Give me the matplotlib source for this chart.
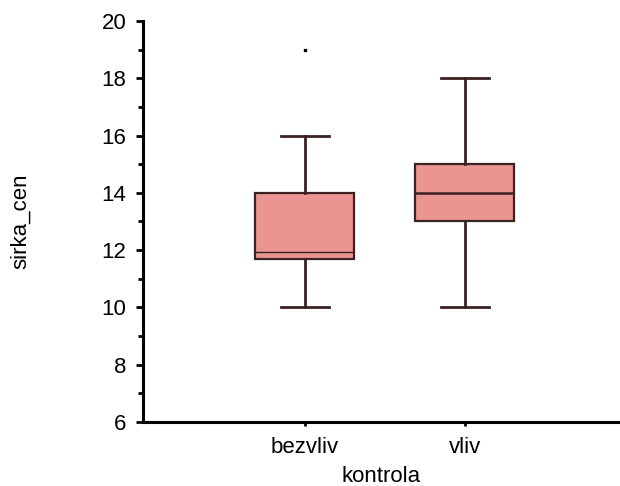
import matplotlib.pyplot as plt
from matplotlib.ticker import MultipleLocator

# box statistics
groups = ["bezvliv", "vliv"]
q1 = [11.7, 13.0]
medians = [11.95, 14.0]
q3 = [14.0, 15.0]
whisker_low = [10.0, 10.0]
whisker_high = [16.0, 18.0]
outliers = [[19.0], []]

plt.rcParams["font.family"] = ["Liberation Sans", "DejaVu Sans"]

box_color = "#eb9593"
edge_color = "#3a2222"

stats = []
for i, name in enumerate(groups):
    stats.append({
        "label": name,
        "q1": q1[i],
        "med": medians[i],
        "q3": q3[i],
        "whislo": whisker_low[i],
        "whishi": whisker_high[i],
        "fliers": outliers[i],
    })

fig = plt.figure(figsize=(6.2, 4.86), dpi=100)
ax = fig.add_axes([0.2306, 0.1317, 0.7694, 0.8251])

parts = ax.bxp(
    stats,
    positions=[1, 2],
    widths=0.62,
    patch_artist=True,
    boxprops=dict(facecolor=box_color, edgecolor=edge_color, linewidth=1.6),
    medianprops=dict(color=edge_color, linewidth=1.4),
    whiskerprops=dict(color=edge_color, linewidth=2.0),
    capprops=dict(color=edge_color, linewidth=2.0),
    capwidths=0.3,
    flierprops=dict(marker="s", markersize=2, markerfacecolor="black",
                    markeredgecolor="black"),
)
# first median is drawn thin, second one heavier
parts["medians"][0].set_linewidth(1.0)
parts["medians"][1].set_linewidth(1.8)

ax.set_xlim(-0.01, 2.97)
ax.set_ylim(6, 20)
ax.yaxis.set_major_locator(MultipleLocator(2))
ax.yaxis.set_minor_locator(MultipleLocator(1))
ax.set_xticks([1, 2])
ax.set_xticklabels(groups)

for side in ["top", "right"]:
    ax.spines[side].set_visible(False)
for side in ["left", "bottom"]:
    ax.spines[side].set_linewidth(2.2)
    ax.spines[side].set_color("black")

ax.tick_params(axis="y", which="major", length=5, width=2, labelsize=16, pad=7)
ax.tick_params(axis="y", which="minor", length=3.5, width=2)
ax.tick_params(axis="x", which="major", length=3, width=2, labelsize=16, pad=8)

ax.set_ylabel("sirka_cen", fontsize=16)
ax.set_xlabel("kontrola", fontsize=16)
ax.yaxis.set_label_coords(-0.235, 0.5)
ax.xaxis.set_label_coords(0.5, -0.11)

fig.savefig("out.png", dpi=100)
